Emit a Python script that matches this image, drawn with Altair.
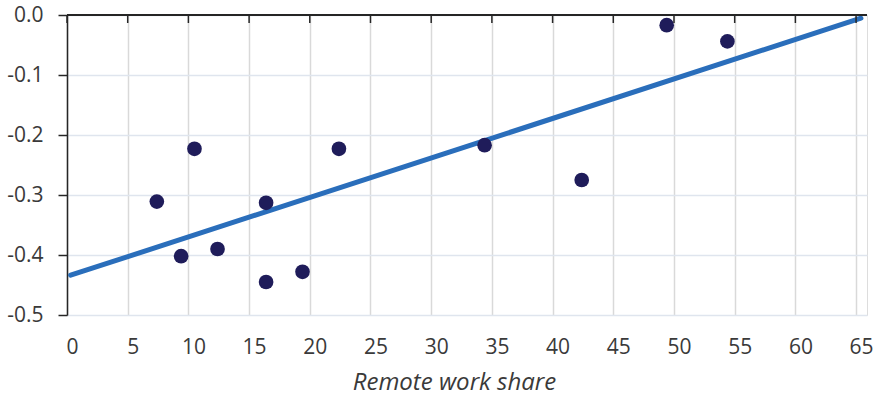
import altair as alt
import pandas as pd

# Remote work share (x) against the outcome (y), one point per observation
remote_share = [7.4, 10.5, 9.4, 12.4, 16.4, 16.4, 19.4, 22.4, 34.4, 42.4, 49.4, 54.4]
outcome = [-0.311, -0.223, -0.402, -0.390, -0.313, -0.445, -0.428, -0.223, -0.217, -0.275, -0.017, -0.044]

x_ticks = list(range(0, 70, 5))
y_ticks = [-0.5, -0.4, -0.3, -0.2, -0.1, 0.0]

df = pd.DataFrame({"share": remote_share, "value": outcome})
ticks_df = pd.DataFrame({"t": x_ticks})

FONT = "Open Sans"
TEXT = "#3a3a3a"
AXIS = "#262626"

x_scale = alt.Scale(domain=[0, 65.9], nice=False, zero=False)
y_scale = alt.Scale(domain=[-0.5, 0], nice=False, zero=False)

x_axis = alt.Axis(
    values=x_ticks,
    title="Remote work share",
    orient="bottom",
    domain=False,
    ticks=False,
    grid=True,
    gridColor="#d9d9d9",
    gridWidth=1.5,
    labelFont=FONT,
    labelFontSize=21,
    labelColor=TEXT,
    labelPadding=21,
    labelOffset=5,
    labelFlush=False,
    titleFont=FONT,
    titleFontSize=24,
    titleFontStyle="italic",
    titleFontWeight="normal",
    titleColor=TEXT,
    titlePadding=13,
    titleX=387,
    titleAlign="center",
)

y_axis = alt.Axis(
    values=y_ticks,
    title=None,
    orient="left",
    domain=True,
    domainColor=AXIS,
    domainWidth=1.5,
    ticks=True,
    tickColor=AXIS,
    tickWidth=1.5,
    tickSize=9,
    grid=True,
    gridColor="#dfe5ee",
    gridWidth=1.5,
    labelFont=FONT,
    labelFontSize=21,
    labelColor=TEXT,
    labelPadding=15,
    labelFlush=False,
    labelExpr="datum.value == 0 ? '0.0' : '-' + format(abs(datum.value), '.1f')",
)

base = alt.Chart(df)

points = base.mark_circle(size=215, opacity=1, color="#1f1c5a").encode(
    x=alt.X("share:Q", scale=x_scale, axis=x_axis),
    y=alt.Y("value:Q", scale=y_scale, axis=y_axis),
)

trend = base.transform_regression(
    "share", "value", extent=[0.3, 65.4]
).mark_line(color="#2a6ebb", strokeWidth=5, strokeCap="round").encode(
    x=alt.X("share:Q", scale=x_scale),
    y=alt.Y("value:Q", scale=y_scale),
)

# Axis line across the top (y = 0) with inward tick marks
top_line = alt.Chart(ticks_df).mark_rule(color=AXIS, strokeWidth=1.5).encode(
    x=alt.value(0), x2=alt.value(800), y=alt.value(0)
)
top_ticks = alt.Chart(ticks_df).mark_rule(color=AXIS, strokeWidth=1.5).encode(
    x=alt.X("t:Q", scale=x_scale),
    y=alt.value(0),
    y2=alt.value(8),
)

chart = (
    alt.layer(trend, points, top_line, top_ticks)
    .properties(
        width=800,
        height=300,
        autosize=alt.AutoSizeParams(type="none"),
        padding={"left": 67, "top": 15, "right": 12, "bottom": 85},
    )
    .configure_view(stroke=None)
    .configure(background="white")
)

chart.save("out.html", embed_options={"renderer": "svg", "actions": False})
